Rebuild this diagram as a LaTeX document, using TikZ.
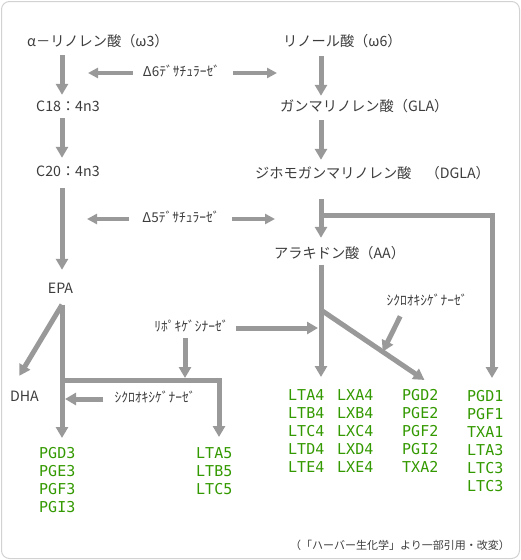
\documentclass[tikz,border=0pt]{standalone}
\usepackage{fontspec}
\setmainfont{Noto Sans CJK JP}
\newfontfamily\greenfont{DejaVu Sans Mono}
\usepackage{tikz}
\usetikzlibrary{arrows.meta,calc}
\definecolor{flowgray}{RGB}{153,153,153}
\definecolor{textgray}{RGB}{60,60,60}
\definecolor{leafgreen}{RGB}{51,153,0}

\begin{document}
\begin{tikzpicture}[x=1pt,y=-1pt,
    txt/.style={inner sep=0pt, text height=10pt, text depth=3pt, text=textgray, font=\fontsize{14.2}{16}\selectfont},
    enz/.style={txt, font=\fontsize{13.5}{15}\selectfont},
    prod/.style={inner sep=0pt, anchor=north west, align=left, text=leafgreen, font=\greenfont\fontsize{15}{18}\selectfont},
    flow/.style={draw=flowgray, line width=5pt, -{Triangle[width=12pt,length=11pt]}},
    thinflow/.style={draw=flowgray, line width=4pt, -{Triangle[width=10pt,length=10pt]}}]
    \useasboundingbox (0,0) rectangle (521,560);
    \draw[gray!35, line width=1pt, rounded corners=8pt] (1.5,1.5) rectangle (519.5,558.5);

    \coordinate (colL) at (62,0);
    \coordinate (colR) at (321,0);

    \node[txt, anchor=west] (ala) at (27,43) {α－リノレン酸（ω3）};
    \node[txt, anchor=west] (lin) at (283,43) {リノール酸（ω6）};
    \node[txt, anchor=west] (c18) at (36,108) {C18：4n3};
    \node[txt, anchor=west] (gla) at (280,108) {ガンマリノレン酸（GLA）};
    \node[txt, anchor=west] (c20) at (36,173) {C20：4n3};
    \node[txt, anchor=west] (dgla) at (255,175) {ジホモガンマリノレン酸　（DGLA）};
    \node[txt, anchor=west] (aa) at (274,255) {アラキドン酸（AA）};
    \node[txt] (epa) at (60.5,290) {EPA};
    \node[txt] (dha) at (24.5,398) {DHA};

    \node[enz] (d6) at (181.5,73) {Δ6ﾃﾞｻﾁｭﾗｰｾﾞ};
    \node[enz] (d5) at (181,219) {Δ5ﾃﾞｻﾁｭﾗｰｾﾞ};
    \node[enz] (lox) at (191.5,328) {ﾘﾎﾟｷｹﾞｼﾅｰｾﾞ};
    \node[enz] (cox2) at (427,302) {ｼｸﾛｵｷｼｹﾞﾅｰｾﾞ};
    \node[enz] (cox1) at (155,399) {ｼｸﾛｵｷｼｹﾞﾅｰｾﾞ};

    \node[prod] (pg3) at (39,447.5) {PGD3\\PGE3\\PGF3\\PGI3};
    \node[prod] (lt5) at (196,447.5) {LTA5\\LTB5\\LTC5};
    \node[prod] (lt4) at (288,389.5) {LTA4\\LTB4\\LTC4\\LTD4\\LTE4};
    \node[prod] (lx4) at (337,389.5) {LXA4\\LXB4\\LXC4\\LXD4\\LXE4};
    \node[prod] (pg2) at (402,389.5) {PGD2\\PGE2\\PGF2\\PGI2\\TXA2};
    \node[prod] (pg1) at (467,390.5) {PGD1\\PGF1\\TXA1\\LTA3\\LTC3\\LTC3};

    \node[txt, anchor=east, font=\fontsize{11}{13}\selectfont] (src) at (510,546) {（「ハーバー生化学」より一部引用・改変）};

    \coordinate (brA) at (321,215);
    \coordinate (brE) at (492,215);
    \coordinate (brB) at (321,310);
    \coordinate (brC) at (62,380);
    \coordinate (brD) at (219,380);
    \coordinate (coxhit) at ($(brB)!0.525!(pg2.north east)$);

    \draw[flow, shorten <=5.5pt, shorten >=6.5pt] (ala.south -| colL) -- (c18.north -| colL);
    \draw[flow, shorten <=3.5pt, shorten >=8.5pt] (c18.south -| colL) -- (c20.north -| colL);
    \draw[flow, shorten <=8.5pt, shorten >=13.5pt] (c20.south -| colL) -- (epa.north -| colL);
    \draw[flow, shorten <=6.5pt, shorten >=5.5pt] (lin.south -| colR) -- (gla.north -| colR);
    \draw[flow, shorten <=5.5pt, shorten >=8.5pt] (gla.south -| colR) -- (dgla.north -| colR);
    \draw[flow, shorten <=17.5pt, shorten >=10.5pt] (dgla.south -| colR) -- (aa.north -| colR);
    \draw[flow, shorten >=12.5pt] (brA) -- (brE) -- (brE |- pg1.north);
    \draw[flow, shorten <=3pt, shorten >=12.5pt] (aa.south -| colR) -- (lt4.north -| colR);
    \draw[flow, shorten >=17pt] (brB) -- (pg2.north east);
    \draw[flow, shorten <=8.5pt] ([xshift=-23pt]cox2.south) -- (coxhit);
    \draw[flow, shorten <=7.5pt, shorten >=3pt] (lox.east) -- (lox.east -| colR);
    \draw[flow, shorten <=3.5pt, shorten >=2pt] ([xshift=-6.5pt]lox.south) -- ([xshift=-6.5pt]lox.south |- brC);
    \draw[flow, shorten <=8pt, shorten >=9.5pt] (epa.south -| colL) -- (pg3.north -| colL);
    \draw[flow, shorten >=18pt] ([yshift=-8pt]epa.south -| colL) -- (dha.north west);
    \draw[flow, shorten >=10.5pt] (brC) -- (brD) -- (brD |- lt5.north);
    \draw[flow, shorten <=11pt, shorten >=3pt] (cox1.west) -- (cox1.west -| colL);

    \draw[thinflow, shorten <=10pt, shorten >=26pt] (d6.west) -- (d6.west -| colL);
    \draw[thinflow, shorten <=13pt, shorten >=44pt] (d6.east) -- (d6.east -| colR);
    \draw[thinflow, shorten <=13pt, shorten >=25pt] (d5.west) -- (d5.west -| colL);
    \draw[thinflow, shorten <=12pt, shorten >=46pt] (d5.east) -- (d5.east -| colR);
\end{tikzpicture}
\end{document}
